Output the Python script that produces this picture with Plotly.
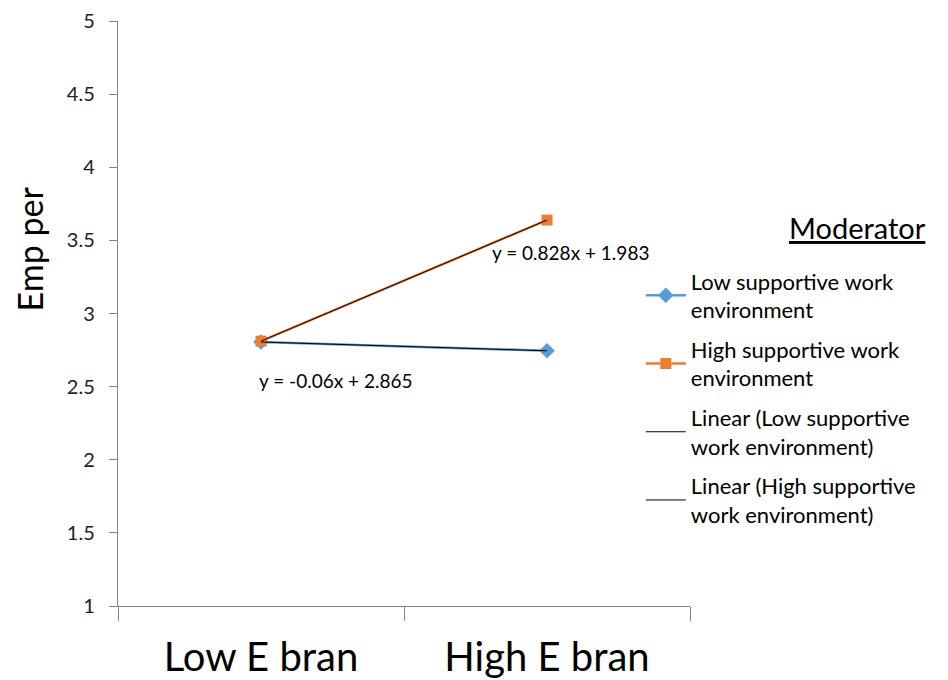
import plotly.graph_objects as go

categories = ["Low E bran", "High E bran"]
low_support = [2.805, 2.745]
high_support = [2.811, 3.639]
low_trend = [2.805, 2.745]
high_trend = [2.811, 3.639]
y_ticks = [1, 1.5, 2, 2.5, 3, 3.5, 4, 4.5, 5]
low_eq = "y = -0.06x + 2.865"
high_eq = "y = 0.828x + 1.983"

FONT = "Lato"
fig = go.Figure()
fig.add_trace(go.Scatter(x=categories, y=low_support, mode="lines+markers",
                         name="Low supportive work<br>environment",
                         line=dict(color="#5B9BD5", width=2.5),
                         marker=dict(symbol="diamond", size=12, color="#5B9BD5"),
                         legendgroup="a"))
fig.add_trace(go.Scatter(x=categories, y=high_support, mode="lines+markers",
                         name="High supportive work<br>environment",
                         line=dict(color="#ED7D31", width=2.5),
                         marker=dict(symbol="square", size=11, color="#ED7D31"),
                         legendgroup="b"))
fig.add_trace(go.Scatter(x=categories, y=low_trend, mode="lines",
                         name="Linear (Low supportive<br>work environment)",
                         line=dict(color="black", width=1), legendgroup="c"))
fig.add_trace(go.Scatter(x=categories, y=high_trend, mode="lines",
                         name="Linear (High supportive<br>work environment)",
                         line=dict(color="black", width=1), legendgroup="d"))

fig.add_annotation(x=1, y=3.42, xref="x", yref="y", text=high_eq, showarrow=False,
                   xshift=23, font=dict(family=FONT, size=19, color="black"))
fig.add_annotation(x=0, y=2.54, xref="x", yref="y", text=low_eq, showarrow=False,
                   xshift=74, font=dict(family=FONT, size=19, color="black"))
fig.add_annotation(x=1.416, y=3.59, xref="paper", yref="y", text="<u>Moderator</u>",
                   showarrow=False, xanchor="right",
                   font=dict(family=FONT, size=29, color="black"))
fig.add_annotation(x=-0.155, y=3.44, xref="paper", yref="y", text="Emp per",
                   showarrow=False, textangle=-90, xanchor="center", yanchor="middle",
                   font=dict(family=FONT, size=34, color="black"))

fig.update_layout(
    width=940, height=672,
    margin=dict(l=110, r=258, t=13, b=74, autoexpand=False),
    paper_bgcolor="white", plot_bgcolor="white",
    font=dict(family=FONT, color="black"),
    showlegend=True,
    legend=dict(x=0.914, y=0.591, xanchor="left", yanchor="top",
                traceorder="grouped", tracegroupgap=8,
                font=dict(family=FONT, size=22, color="black"),
                bgcolor="rgba(0,0,0,0)", itemwidth=40),
    xaxis=dict(type="category", range=[-0.5, 1.5], showline=True, automargin=False,
               linecolor="#868686", linewidth=1, ticks="outside", ticklen=14,
               tickcolor="#868686", tickson="boundaries", showgrid=False,
               zeroline=False, tickfont=dict(family=FONT, size=40, color="black"),
               ticklabelstandoff=16),
    yaxis=dict(range=[1, 5], tickvals=y_ticks,
               ticktext=[f"{v:g}\u00a0\u00a0" for v in y_ticks],
               showline=True, linecolor="#868686", linewidth=1, ticks="outside",
               automargin=False,
               ticklen=8, tickcolor="#868686", showgrid=False, zeroline=False,
               tickfont=dict(family=FONT, size=20, color="#222222")),
)
fig.write_html("out.html")
